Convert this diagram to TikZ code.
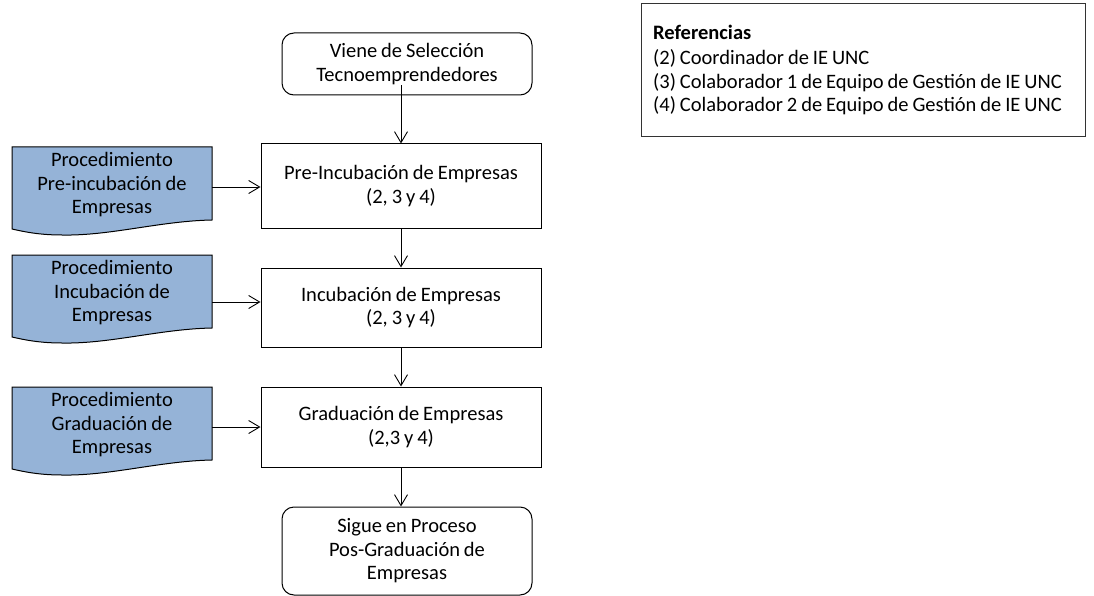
\documentclass[tikz,border=0pt]{standalone}
\usepackage{fontspec}
\setmainfont[WordSpace=0.85]{Carlito}
\usetikzlibrary{arrows.meta,backgrounds}
\begin{document}
\begin{tikzpicture}[x=1pt,y=-1pt,
  every node/.style={font=\fontsize{20.5}{23.5}\selectfont},
  procbox/.style={draw=black, line width=1pt, minimum width=280pt, align=center, inner sep=0pt},
  termbox/.style={draw=black, line width=1pt, rounded corners=12pt, minimum width=250pt, align=center, inner sep=0pt},
  doctext/.style={align=center, inner sep=0pt},
  docfill/.style={draw=black, line width=1pt, fill=docblue},
  flow/.style={-{Straight Barb[length=11pt,width=13pt]}, line width=0.9pt},
]
\definecolor{docblue}{HTML}{95B3D7}
\useasboundingbox (0,0) rectangle (1094,596);

% main column
\node[termbox, minimum height=62pt] (start) at (407,64) {Viene de Selección\\Tecnoemprendedores};
\node[procbox, minimum height=84pt] (b1) at (401,186) {Pre-Incubación de Empresas\\(2, 3 y 4)};
\node[procbox, minimum height=79pt] (b2) at (401,307.5) {Incubación de Empresas\\(2, 3 y 4)};
\node[procbox, minimum height=80pt] (b3) at (401,427) {Graduación de Empresas\\(2,3 y 4)};
\node[termbox, minimum height=88pt] (end) at (407,551) {Sigue en Proceso\\Pos-Graduación de\\Empresas};

% document shapes (text)
\node[doctext] (d1) at (112,185) {Procedimiento\\Pre-incubación de\\Empresas};
\node[doctext] (d2) at (112,293) {Procedimiento\\Incubación de\\Empresas};
\node[doctext] (d3) at (112,425) {Procedimiento\\Graduación de\\Empresas};

\begin{scope}[on background layer]
\foreach \T in {147,255,387}{
  \draw[docfill] (12,\T) -- (212,\T) -- (212,\T+73)
    .. controls (160,\T+74) and (110,\T+89) .. (62,\T+88)
    .. controls (40,\T+88) and (25,\T+85) .. (12,\T+82) -- cycle;
}
\end{scope}

% references
\node[align=left, inner sep=0pt, anchor=north west] (ref) at (653,25)
  {\textbf{Referencias}\\[1.5pt](2) Coordinador de IE UNC\\(3) Colaborador 1 de Equipo de Gestión de IE UNC\\(4) Colaborador 2 de Equipo de Gestión de IE UNC};
\draw[black!80, line width=1pt] (641,4) rectangle (1085,137);

% connectors
\coordinate (s0) at ([yshift=10pt]start.south -| b1.north);
\draw[flow] (s0) -- (b1.north);
\draw[flow] (b1.south) -- (b2.north);
\draw[flow] (b2.south) -- (b3.north);
\draw[flow] (b3.south) -- (b3.south |- end.north);

\draw[flow] (212,187) coordinate (a1) -- (a1 -| b1.west);
\draw[flow] (212,302) coordinate (a2) -- (a2 -| b2.west);
\draw[flow] (212,427) coordinate (a3) -- (a3 -| b3.west);
\end{tikzpicture}
\end{document}
